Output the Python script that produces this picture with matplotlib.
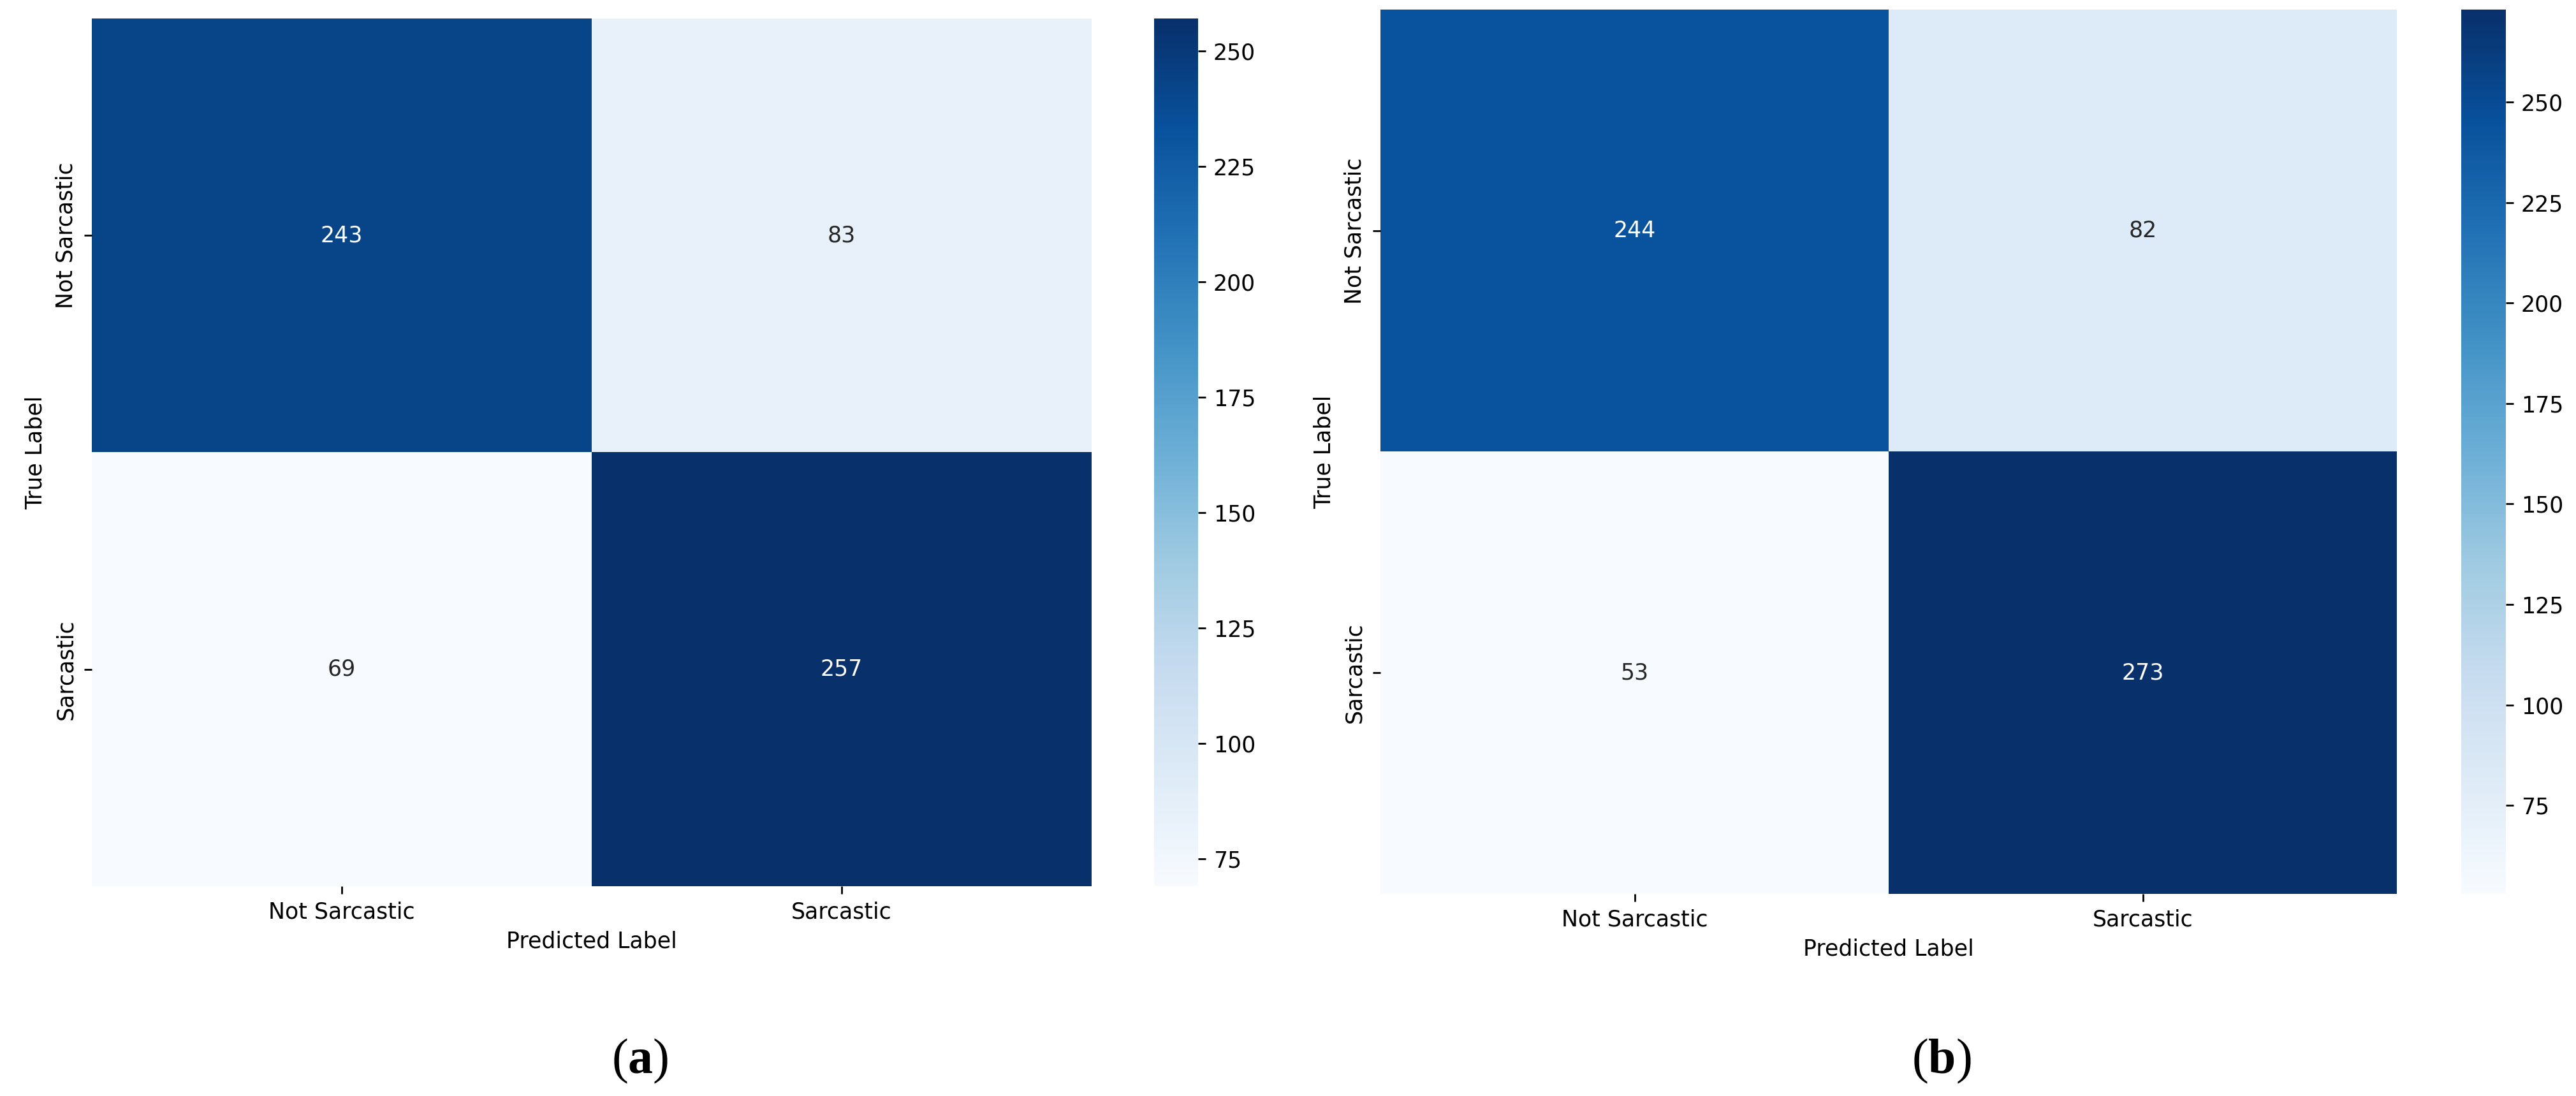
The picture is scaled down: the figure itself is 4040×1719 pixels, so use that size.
import numpy as np
import matplotlib
matplotlib.use("Agg")
import matplotlib.pyplot as plt
import seaborn as sns

# confusion matrices
class_names = ["Not Sarcastic", "Sarcastic"]
cm_a = [[243, 83],
        [69, 257]]
cm_b = [[244, 82],
        [53, 273]]
cbar_ticks = [75, 100, 125, 150, 175, 200, 225, 250]
captions = ["a", "b"]

FS = 25
plt.rcParams["font.family"] = ["DejaVu Sans"]
plt.rcParams["mathtext.fontset"] = "custom"
plt.rcParams["mathtext.rm"] = "Liberation Serif"
plt.rcParams["mathtext.bf"] = "Liberation Serif:bold"

W, H = 4040, 1719
fig = plt.figure(figsize=(W / 100, H / 100), dpi=100)


def px_rect(x0, y0, x1, y1):
    # pixel box (top-left origin) -> figure fraction rect
    return [x0 / W, 1 - y1 / H, (x1 - x0) / W, (y1 - y0) / H]


panels = [
    (cm_a, px_rect(144, 29, 1712, 1390), px_rect(1810, 29, 1879, 1390), 1004),
    (cm_b, px_rect(2165, 15, 3759, 1402), px_rect(3860, 15, 3930, 1402), 3045),
]

for (cm, rect, cbrect, capx), cap in zip(panels, captions):
    ax = fig.add_axes(rect)
    cax = fig.add_axes(cbrect)
    sns.heatmap(np.array(cm), annot=True, fmt="d", cmap="Blues", ax=ax, cbar_ax=cax,
                xticklabels=class_names, yticklabels=class_names,
                annot_kws={"fontsize": FS})
    ax.set_xlabel("Predicted Label", fontsize=FS, labelpad=8)
    ax.set_ylabel("True Label", fontsize=FS, labelpad=10)
    ax.tick_params(axis="both", labelsize=FS, length=12 / 1.389, width=2, pad=8.6)
    plt.setp(ax.get_yticklabels(), rotation=90, va="center")
    plt.setp(ax.get_xticklabels(), rotation=0)
    cax.set_yticks(cbar_ticks)
    cax.tick_params(labelsize=FS, length=12 / 1.389, width=2, pad=8.6)
    for s in cax.spines.values():
        s.set_visible(False)
    fig.text(capx / W, 1 - 1664 / H, r"$\mathrm{(}\mathbf{" + cap + r"}\mathrm{)}$",
             fontsize=56, ha="center", va="center")

fig.savefig("out.png", dpi=100, facecolor="white")
